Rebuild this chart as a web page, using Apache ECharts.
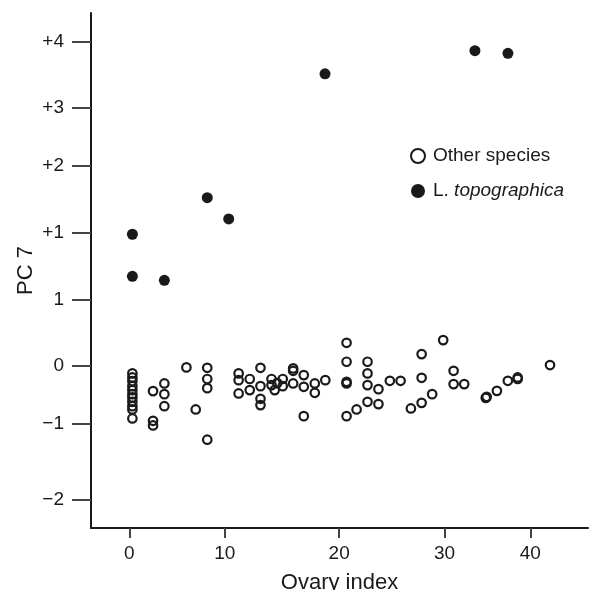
<!DOCTYPE html>
<html>
<head>
<meta charset="utf-8">
<script src="https://cdn.jsdelivr.net/npm/echarts@6/dist/echarts.min.js"></script>
<style>
  html, body { margin: 0; padding: 0; background: #fff; }
  #main { width: 591px; height: 590px; }
</style>
</head>
<body>
<div id="main"></div>
<script>
// tick positions (in plot units) and their printed labels
var xTickValues = [0, 9.52, 20.93, 31.45, 40];
var xTickLabels = ['0', '10', '20', '30', '40'];
var yTickValues = [-2.024, -0.873, 0, 1.006, 2.015, 3.03, 3.90, 4.91];
var yTickLabels = ['\u22122', '\u22121', '0', '1', '+1', '+2', '+3', '+4'];

// Other species (open circles)
var otherX = [
    0.30, 0.30, 0.30, 0.30, 0.30, 0.30, 0.30, 0.30, 0.30, 0.30, 0.30,
    2.36, 2.36, 2.36,
    3.49, 3.49, 3.49,
    5.69, 6.62,
    7.77, 7.77, 7.77, 7.77,
    10.9, 10.9, 10.9,
    12.01, 12.01,
    13.08, 13.08, 13.08, 13.08,
    14.18, 14.18, 14.5, 14.75, 15.3, 15.3,
    16.34, 16.34, 16.34,
    17.4, 17.4, 17.4,
    18.5, 18.5,
    19.55,
    21.67, 21.67, 21.67, 21.67, 21.67,
    22.67,
    23.76, 23.76, 23.76, 23.76,
    24.85, 24.85,
    25.99, 27.06, 28.09,
    29.16, 29.16, 29.16,
    30.21, 31.31,
    32.35, 32.35, 33.41,
    35.56, 35.65, 36.67, 37.76,
    38.74, 38.74,
    41.97
];
var otherY = [
    -0.115, -0.176, -0.232, -0.308, -0.368, -0.429, -0.479, -0.545, -0.611, -0.661, -0.797,
    -0.383, -0.833, -0.903,
    -0.267, -0.429, -0.611,
    -0.024, -0.661,
    -0.03, -0.2, -0.338, -1.118,
    -0.115, -0.217, -0.418,
    -0.2, -0.368,
    -0.03, -0.308, -0.5, -0.595,
    -0.2, -0.292, -0.368, -0.262, -0.2, -0.308,
    -0.039, -0.076, -0.267,
    -0.141, -0.318, -0.762,
    -0.267, -0.409,
    -0.217,
    0.348, 0.061, -0.242, -0.267, -0.762,
    -0.661,
    0.061, -0.115, -0.292, -0.545,
    -0.353, -0.58,
    -0.227, -0.227, -0.645,
    0.177, -0.182, -0.561,
    -0.429, 0.389,
    -0.076, -0.277, -0.277,
    -0.485, -0.47, -0.379, -0.227,
    -0.176, -0.2,
    0.011
];

// L. topographica (filled circles)
var topoX = [0.30, 0.30, 3.49, 7.77, 9.91, 19.52, 34.48, 37.77];
var topoY = [1.991, 1.355, 1.294, 2.545, 2.223, 4.42, 4.77, 4.73];

function pairs(xs, ys) {
    var out = [];
    for (var i = 0; i < xs.length; i++) out.push([xs[i], ys[i]]);
    return out;
}

var myChart = echarts.init(document.getElementById('main'));

var font = 'Liberation Sans';

option = {
    backgroundColor: '#fff',
    animation: false,
    grid: {
        left: 91,
        right: 3,
        top: 13,
        bottom: 62,
        outerBoundsMode: 'none'
    },
    legend: {
        orient: 'vertical',
        left: 405,
        top: 141,
        itemWidth: 14,
        itemHeight: 14,
        itemGap: 15,
        icon: 'circle',
        data: ['Other species', 'L. topographica'],
        formatter: function (name) {
            return name === 'L. topographica' ? 'L. {i|topographica}' : name;
        },
        textStyle: {
            color: '#1a1a1a',
            fontFamily: font,
            fontSize: 19,
            lineHeight: 20,
            padding: [0, 0, 0, 3],
            rich: {
                i: { fontStyle: 'italic', fontFamily: font, fontSize: 19, color: '#1a1a1a' }
            }
        }
    },
    xAxis: {
        type: 'value',
        min: -3.83,
        max: 45.76,
        name: 'Ovary index',
        nameLocation: 'middle',
        nameGap: 44,
        nameMoveOverlap: false,
        nameTextStyle: { fontFamily: font, fontSize: 22, color: '#1a1a1a' },
        splitLine: { show: false },
        axisLine: { onZero: false, lineStyle: { color: '#1a1a1a', width: 2 } },
        axisTick: {
            customValues: xTickValues,
            length: 10,
            lineStyle: { color: '#444', width: 2 }
        },
        axisLabel: {
            customValues: xTickValues,
            margin: 16,
            fontFamily: font,
            fontSize: 19,
            color: '#1a1a1a',
            formatter: function (v) {
                return xTickLabels[xTickValues.indexOf(v)];
            }
        }
    },
    yAxis: {
        type: 'value',
        min: -2.455,
        max: 5.34,
        name: 'PC 7',
        nameLocation: 'middle',
        nameGap: 54,
        nameMoveOverlap: false,
        nameTextStyle: { fontFamily: font, fontSize: 22, color: '#1a1a1a' },
        splitLine: { show: false },
        axisLine: { onZero: false, lineStyle: { color: '#1a1a1a', width: 2 } },
        axisTick: {
            customValues: yTickValues,
            length: 19,
            lineStyle: { color: '#444', width: 2 }
        },
        axisLabel: {
            customValues: yTickValues,
            margin: 27,
            fontFamily: font,
            fontSize: 19,
            color: '#1a1a1a',
            formatter: function (v) {
                return yTickLabels[yTickValues.indexOf(v)];
            }
        }
    },
    series: [
        {
            name: 'Other species',
            type: 'scatter',
            symbol: 'circle',
            symbolSize: 8.5,
            itemStyle: {
                color: 'rgba(255,255,255,0)',
                borderColor: '#1a1a1a',
                borderWidth: 2.2,
                opacity: 1
            },
            data: pairs(otherX, otherY)
        },
        {
            name: 'L. topographica',
            type: 'scatter',
            symbol: 'circle',
            symbolSize: 11,
            itemStyle: {
                color: '#1a1a1a',
                opacity: 1
            },
            data: pairs(topoX, topoY)
        }
    ]
};

myChart.setOption(option);
</script>
</body>
</html>
